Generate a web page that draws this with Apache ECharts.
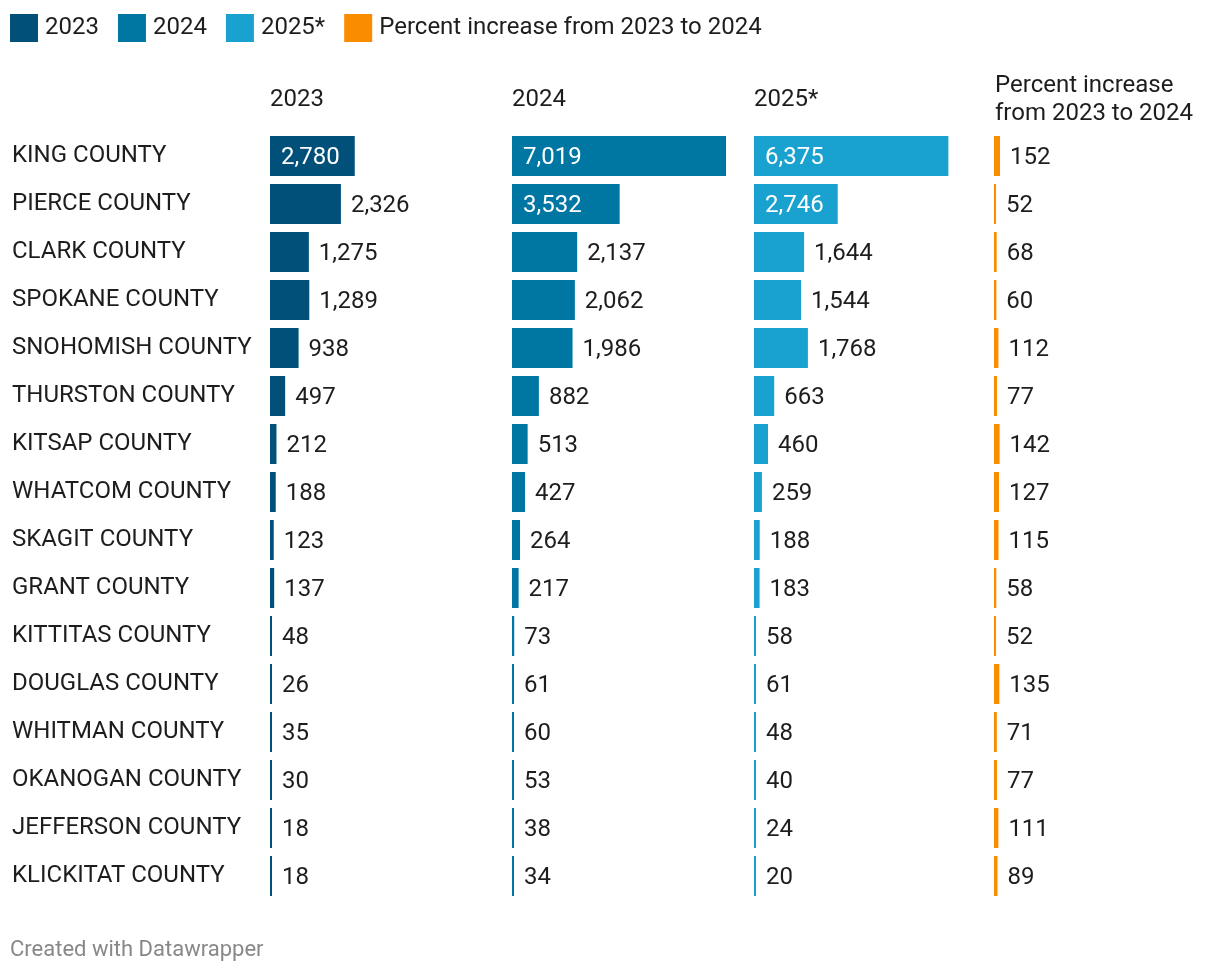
<!DOCTYPE html>
<html><head><meta charset="utf-8">
<script src="https://cdn.jsdelivr.net/npm/echarts@6/dist/echarts.min.js"></script>
<style>html,body{margin:0;padding:0;background:#fff}#c{width:1220px;height:972px}</style>
</head><body><div id="c"></div>
<script>
const counties = ["KING COUNTY","PIERCE COUNTY","CLARK COUNTY","SPOKANE COUNTY","SNOHOMISH COUNTY","THURSTON COUNTY","KITSAP COUNTY","WHATCOM COUNTY","SKAGIT COUNTY","GRANT COUNTY","KITTITAS COUNTY","DOUGLAS COUNTY","WHITMAN COUNTY","OKANOGAN COUNTY","JEFFERSON COUNTY","KLICKITAT COUNTY"];
const v2023 = [2780,2326,1275,1289,938,497,212,188,123,137,48,26,35,30,18,18];
const v2024 = [7019,3532,2137,2062,1986,882,513,427,264,217,73,61,60,53,38,34];
const v2025 = [6375,2746,1644,1544,1768,663,460,259,188,183,58,61,48,40,24,20];
const pctIncrease = [152,52,68,60,112,77,142,127,115,58,52,135,71,77,111,89];
const seriesNames = ["2023","2024","2025*","Percent increase from 2023 to 2024"];
const colors = ["#00507a","#0077a3","#19a2cf","#fa8c00"];

const FONT = "Roboto";
const TXT = "#1d1d1d";
const colLeft = [270,512,754,994];
const colWidth = [214,214,214,6];
const colMax = [7019,7019,7019,152];
const valuesArr = [v2023,v2024,v2025,pctIncrease];
const insideThreshold = 2600;

const grids = [], xAxes = [], yAxes = [], series = [];
for (let i=0;i<4;i++){
  grids.push({left:colLeft[i], width:colWidth[i], top:132, height:768});
  xAxes.push({type:'value', gridIndex:i, min:0, max:colMax[i], show:false});
  yAxes.push({type:'category', gridIndex:i, data:counties, inverse:true,
    axisLine:{show:false}, axisTick:{show:false}, splitLine:{show:false},
    axisLabel: i===0 ? {show:true, align:'left', margin:258, fontFamily:FONT, fontSize:24, color:TXT, padding:[0,0,3,0]} : {show:false}});
  const data = valuesArr[i].map(v=>{
    const inside = i<3 && v>insideThreshold;
    return {value:v, label: inside ? {position:'insideLeft', distance:11, color:'#fff'} : {position:'right', distance:10, color:TXT}};
  });
  series.push({name:seriesNames[i], type:'bar', xAxisIndex:i, yAxisIndex:i, data:data,
    barWidth:40, barMinHeight:2, itemStyle:{color:colors[i]}, silent:true,
    label:{show:true, fontFamily:FONT, fontSize:24, offset:[0,1.5], formatter:p=>p.value.toLocaleString('en-US')}});
}

const hdr = {fontFamily:FONT, fontSize:24, fontWeight:'normal', color:TXT};
const chart = echarts.init(document.getElementById('c'), null, {renderer:'canvas'});
chart.setOption({
  animation:false,
  textStyle:{fontFamily:FONT},
  legend:{left:10, top:14, padding:0, itemWidth:28, itemHeight:28, itemGap:19, icon:'rect', selectedMode:false,
    data:seriesNames, textStyle:{fontFamily:FONT, fontSize:24, color:TXT, padding:[6,0,0,2]}},
  title:[
    {text:"2023", left:270, top:88, padding:0, textStyle:hdr},
    {text:"2024", left:512, top:88, padding:0, textStyle:hdr},
    {text:"2025*", left:754, top:88, padding:0, textStyle:hdr},
    {text:"Percent increase\nfrom 2023 to 2024", left:995, top:72, padding:0, textStyle:Object.assign({}, hdr, {lineHeight:28})},
    {text:"Created with Datawrapper", left:10, top:939, padding:0, textStyle:{fontFamily:FONT, fontSize:22, fontWeight:'normal', color:'#888888'}}
  ],
  grid:grids, xAxis:xAxes, yAxis:yAxes, series:series
});
</script></body></html>
